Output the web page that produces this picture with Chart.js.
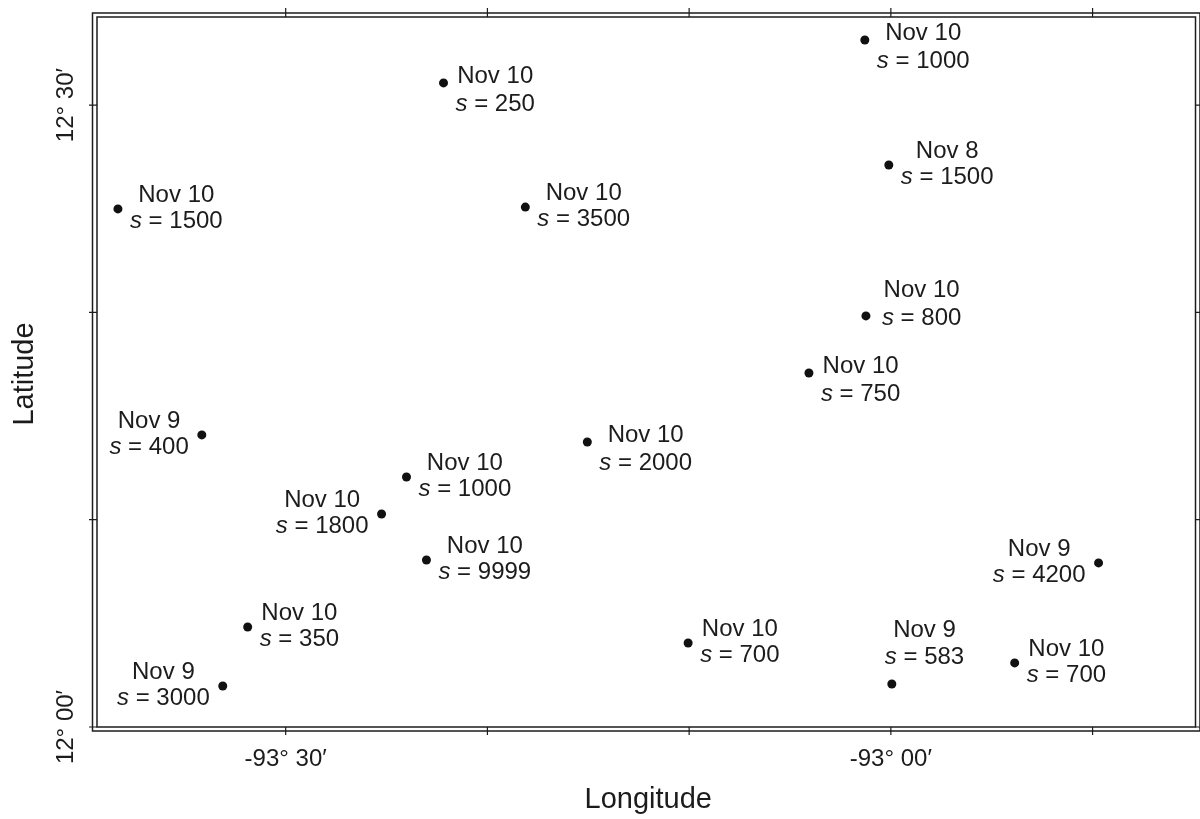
<!DOCTYPE html>
<html>
<head>
<meta charset="utf-8">
<script src="https://cdn.jsdelivr.net/npm/chart.js@4.4.0/dist/chart.umd.min.js"></script>
<style>
  body { margin: 0; background: #fff; }
  canvas { display: block; }
</style>
</head>
<body>
<canvas id="mapa" width="1200" height="819"></canvas>
<script>
// station positions (decimal degrees)
const lon = [-93.6386, -93.3696, -93.3020, -93.0215, -93.0017, -93.0206, -93.0677, -93.5693, -93.2508,
             -93.4002, -93.4208, -93.3837, -92.8284, -93.5314, -93.1675, -92.8977, -92.9992, -93.5520];
const lat = [12.4165, 12.5178, 12.4180, 12.5523, 12.4518, 12.3305, 12.2846, 12.2348, 12.2291,
             12.2010, 12.1712, 12.1343, 12.1319, 12.0804, 12.0675, 12.0515, 12.0346, 12.0330];
const dates = ['Nov 10', 'Nov 10', 'Nov 10', 'Nov 10', 'Nov 8', 'Nov 10', 'Nov 10', 'Nov 9', 'Nov 10',
               'Nov 10', 'Nov 10', 'Nov 10', 'Nov 9', 'Nov 10', 'Nov 10', 'Nov 10', 'Nov 9', 'Nov 9'];
const sVals = [1500, 250, 3500, 1000, 1500, 800, 750, 400, 2000, 1000, 1800, 9999, 4200, 350, 700, 700, 583, 3000];
// where each label sits relative to its dot
const placement = ['r', 'rd', 'r', 'rd', 'r', 'ru', 'rd', 'l', 'rd', 'r', 'l', 'r', 'l', 'r', 'r', 'r', 'a', 'l'];

// axis ticks every 10 minutes
const xTicks = [-93.5, -93 - 20 / 60, -93 - 10 / 60, -93.0, -93 + 10 / 60];
const xTickLabels = ['-93\u00b0 30\u2032', '', '', '-93\u00b0 00\u2032', ''];
const yTicks = [12.0, 12 + 10 / 60, 12 + 20 / 60, 12.5];
const yTickLabels = ['12\u00b0 00\u2032', '', '', '12\u00b0 30\u2032'];

const FONT = '"Liberation Sans", Arial, Helvetica, sans-serif';
const INK = '#1c1c1c';

const offsets = {
    r:  { x: 12,  y1: -14, y2: 12 },
    rd: { x: 12,  y1: -7,  y2: 21 },
    ru: { x: 16,  y1: -26, y2: 2 },
    l:  { x: -13, y1: -14, y2: 12 },
    a:  { x: -7,  y1: -54, y2: -27 }
};

const mapaPlugin = {
    id: 'mapa',
    beforeDraw(chart) {
        const ctx = chart.ctx;
        ctx.save();
        ctx.fillStyle = '#fff';
        ctx.fillRect(0, 0, chart.width, chart.height);
        ctx.restore();
    },
    afterDraw(chart) {
        const ctx = chart.ctx;
        const a = chart.chartArea;
        const xs = chart.scales.x, ys = chart.scales.y;
        ctx.save();
        ctx.strokeStyle = INK;
        ctx.lineWidth = 1.5;
        // double frame
        ctx.strokeRect(a.left, a.top, a.right - a.left, a.bottom - a.top);
        ctx.strokeRect(a.left - 4.5, a.top - 4, a.right - a.left + 9, a.bottom - a.top + 8);

        // tick marks
        ctx.lineWidth = 1.2;
        ctx.beginPath();
        xTicks.forEach(v => {
            const px = xs.getPixelForValue(v);
            ctx.moveTo(px, a.top); ctx.lineTo(px, a.top - 9);
            ctx.moveTo(px, a.bottom); ctx.lineTo(px, a.bottom + 8);
        });
        yTicks.forEach(v => {
            const py = ys.getPixelForValue(v);
            ctx.moveTo(a.left, py); ctx.lineTo(a.left - 8, py);
            ctx.moveTo(a.right, py); ctx.lineTo(a.right + 8, py);
        });
        ctx.stroke();

        // tick labels
        ctx.fillStyle = INK;
        ctx.font = '24px ' + FONT;
        ctx.textAlign = 'center';
        ctx.textBaseline = 'middle';
        xTicks.forEach((v, i) => {
            if (xTickLabels[i]) ctx.fillText(xTickLabels[i], xs.getPixelForValue(v), 759);
        });
        yTicks.forEach((v, i) => {
            if (!yTickLabels[i]) return;
            ctx.save();
            ctx.translate(66, ys.getPixelForValue(v));
            ctx.rotate(-Math.PI / 2);
            ctx.fillText(yTickLabels[i], 0, 0);
            ctx.restore();
        });

        // axis titles
        ctx.font = '29px ' + FONT;
        ctx.fillText('Longitude', (a.left + a.right) / 2 + 2, 800);
        ctx.save();
        ctx.translate(25, 374);
        ctx.rotate(-Math.PI / 2);
        ctx.fillText('Latitude', 0, 0);
        ctx.restore();

        // point labels
        ctx.textAlign = 'left';
        const meta = chart.getDatasetMeta(0);
        meta.data.forEach((pt, i) => {
            const o = offsets[placement[i]];
            const line1 = dates[i];
            const rest = ' = ' + sVals[i];
            ctx.font = '24px ' + FONT;
            const w1 = ctx.measureText(line1).width;
            const wRest = ctx.measureText(rest).width;
            ctx.font = 'italic 24px ' + FONT;
            const wS = ctx.measureText('s').width;
            const w2 = wS + wRest;
            const w = Math.max(w1, w2);
            let left = o.x >= 0 ? pt.x + o.x : pt.x + o.x - w;
            if (placement[i] === 'a') left = pt.x + o.x;
            const cx = left + w / 2;
            ctx.font = '24px ' + FONT;
            ctx.fillText(line1, cx - w1 / 2, pt.y + o.y1);
            ctx.font = 'italic 24px ' + FONT;
            ctx.fillText('s', cx - w2 / 2, pt.y + o.y2);
            ctx.font = '24px ' + FONT;
            ctx.fillText(rest, cx - w2 / 2 + wS, pt.y + o.y2);
        });
        ctx.restore();
    }
};

new Chart(document.getElementById('mapa'), {
    type: 'scatter',
    data: {
        datasets: [{
            data: lon.map((x, i) => ({ x: x, y: lat[i] })),
            backgroundColor: '#111',
            borderWidth: 0,
            pointRadius: 4.5
        }]
    },
    options: {
        responsive: false,
        animation: false,
        devicePixelRatio: 1,
        layout: { padding: { left: 97, right: 3, top: 17, bottom: 92 } },
        plugins: { legend: { display: false }, tooltip: { enabled: false } },
        scales: {
            x: { type: 'linear', display: false, min: -93.6559, max: -92.7483 },
            y: { type: 'linear', display: false, min: 12.0, max: 12.5708 }
        }
    },
    plugins: [mapaPlugin]
});
</script>
</body>
</html>
